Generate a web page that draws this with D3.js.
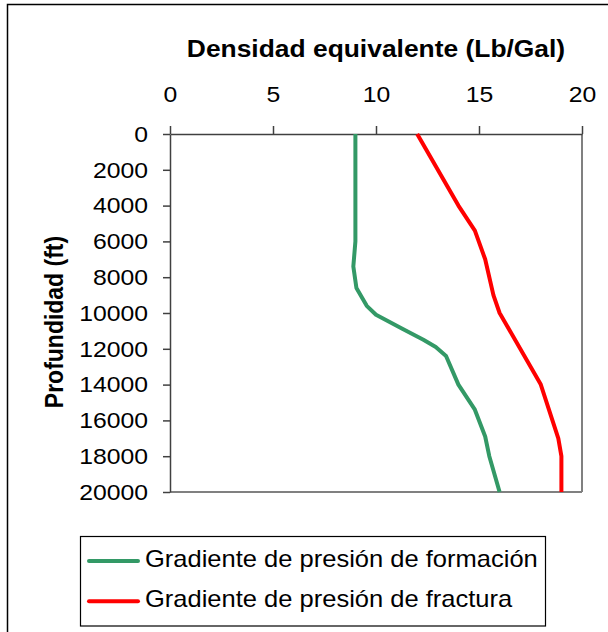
<!DOCTYPE html>
<html>
<head>
<meta charset="utf-8">
<script src="https://cdn.jsdelivr.net/npm/d3@7"></script>
<style>
  html, body { margin: 0; padding: 0; background: #fff; }
  svg text { font-family: "Liberation Sans", Arial, sans-serif; fill: #000; }
</style>
</head>
<body>
<svg id="chart" width="608" height="632"></svg>
<script>
// Depth (ft) of each reading
const formacionDepth = [0, 6000, 7400, 8600, 9600, 10100, 10900, 11500, 11900, 12400, 14000, 15400, 16900, 18000, 20000];
// Formation pressure gradient (Lb/Gal)
const formacionValues = [9.0, 9.0, 8.9, 9.05, 9.55, 10.0, 11.3, 12.3, 12.9, 13.4, 14.0, 14.8, 15.3, 15.5, 16.0];

const fracturaDepth = [0, 4000, 5400, 7000, 9000, 10000, 14000, 17000, 18000, 20000];
// Fracture pressure gradient (Lb/Gal)
const fracturaValues = [12.0, 14.0, 14.8, 15.3, 15.7, 16.0, 18.0, 18.85, 19.0, 19.0];

const xTicks = [0, 5, 10, 15, 20];
const yTicks = [0, 2000, 4000, 6000, 8000, 10000, 12000, 14000, 16000, 18000, 20000];

const seriesNames = ["Gradiente de presión de formación", "Gradiente de presión de fractura"];
const seriesColors = ["#339966", "#FF0000"];

const SX = 1.1; // horizontal text stretch

const svg = d3.select("#chart");

// outer frame
svg.append("rect")
  .attr("x", 7.5).attr("y", 4.5)
  .attr("width", 700).attr("height", 700)
  .attr("fill", "none").attr("stroke", "#000").attr("stroke-width", 1.5);

const x = d3.scaleLinear().domain([0, 20]).range([170, 582]);
const y = d3.scaleLinear().domain([0, 20000]).range([134, 492]);

// plot border (right / bottom)
svg.append("line")
  .attr("x1", x(20)).attr("x2", x(20)).attr("y1", y(0)).attr("y2", y(20000))
  .attr("stroke", "#808080").attr("stroke-width", 2);
svg.append("line")
  .attr("x1", x(0)).attr("x2", x(20)).attr("y1", y(20000)).attr("y2", y(20000))
  .attr("stroke", "#808080").attr("stroke-width", 2);

// top axis
const gx = svg.append("g")
  .attr("transform", `translate(0,${y(0)})`)
  .call(d3.axisTop(x).tickValues(xTicks).tickSize(8).tickSizeOuter(0).tickPadding(24));
gx.select(".domain").attr("stroke", "#404040").attr("stroke-width", 1.5);
gx.selectAll(".tick line").attr("stroke", "#404040").attr("stroke-width", 1.5);
gx.selectAll(".tick text")
  .attr("font-size", 22.5)
  .attr("transform", `scale(${SX},1)`);

// left axis
const gy = svg.append("g")
  .attr("transform", `translate(${x(0)},0)`)
  .call(d3.axisLeft(y).tickValues(yTicks).tickFormat(d3.format("d")).tickSize(7).tickSizeOuter(0).tickPadding(15));
gy.select(".domain").attr("stroke", "#404040").attr("stroke-width", 1.5);
gy.selectAll(".tick line").attr("stroke", "#404040").attr("stroke-width", 1.5);
gy.selectAll(".tick text")
  .attr("font-size", 22.5)
  .attr("x", -22 / SX)
  .attr("transform", `scale(${SX},1)`);

// axis titles
svg.append("text")
  .attr("transform", `translate(${(x(0) + x(20)) / 2},57) scale(${SX},1)`)
  .attr("text-anchor", "middle")
  .attr("font-size", 24)
  .attr("font-weight", "bold")
  .text("Densidad equivalente (Lb/Gal)");

svg.append("text")
  .attr("transform", `translate(63,322) scale(${SX},1) rotate(-90)`)
  .attr("text-anchor", "middle")
  .attr("font-size", 23)
  .attr("font-weight", "bold")
  .text("Profundidad (ft)");

// series lines
const line = d3.line().x(d => x(d[0])).y(d => y(d[1]));
const series = [
  formacionValues.map((v, i) => [v, formacionDepth[i]]),
  fracturaValues.map((v, i) => [v, fracturaDepth[i]])
];
series.forEach((pts, i) => {
  svg.append("path")
    .datum(pts)
    .attr("d", line)
    .attr("fill", "none")
    .attr("stroke", seriesColors[i])
    .attr("stroke-width", 4)
    .attr("stroke-linejoin", "round");
});

// legend
svg.append("rect")
  .attr("x", 80.5).attr("y", 536.5)
  .attr("width", 465).attr("height", 89.5)
  .attr("fill", "#fff").attr("stroke", "#000").attr("stroke-width", 1.2);

seriesNames.forEach((name, i) => {
  const cy = 561 + i * 40.3;
  svg.append("line")
    .attr("x1", 89).attr("x2", 138).attr("y1", cy).attr("y2", cy)
    .attr("stroke", seriesColors[i]).attr("stroke-width", 4).attr("stroke-linecap", "round");
  svg.append("text")
    .attr("transform", `translate(145,${cy + 5.5}) scale(${SX},1)`)
    .attr("font-size", 23.2)
    .text(name);
});
</script>
</body>
</html>
